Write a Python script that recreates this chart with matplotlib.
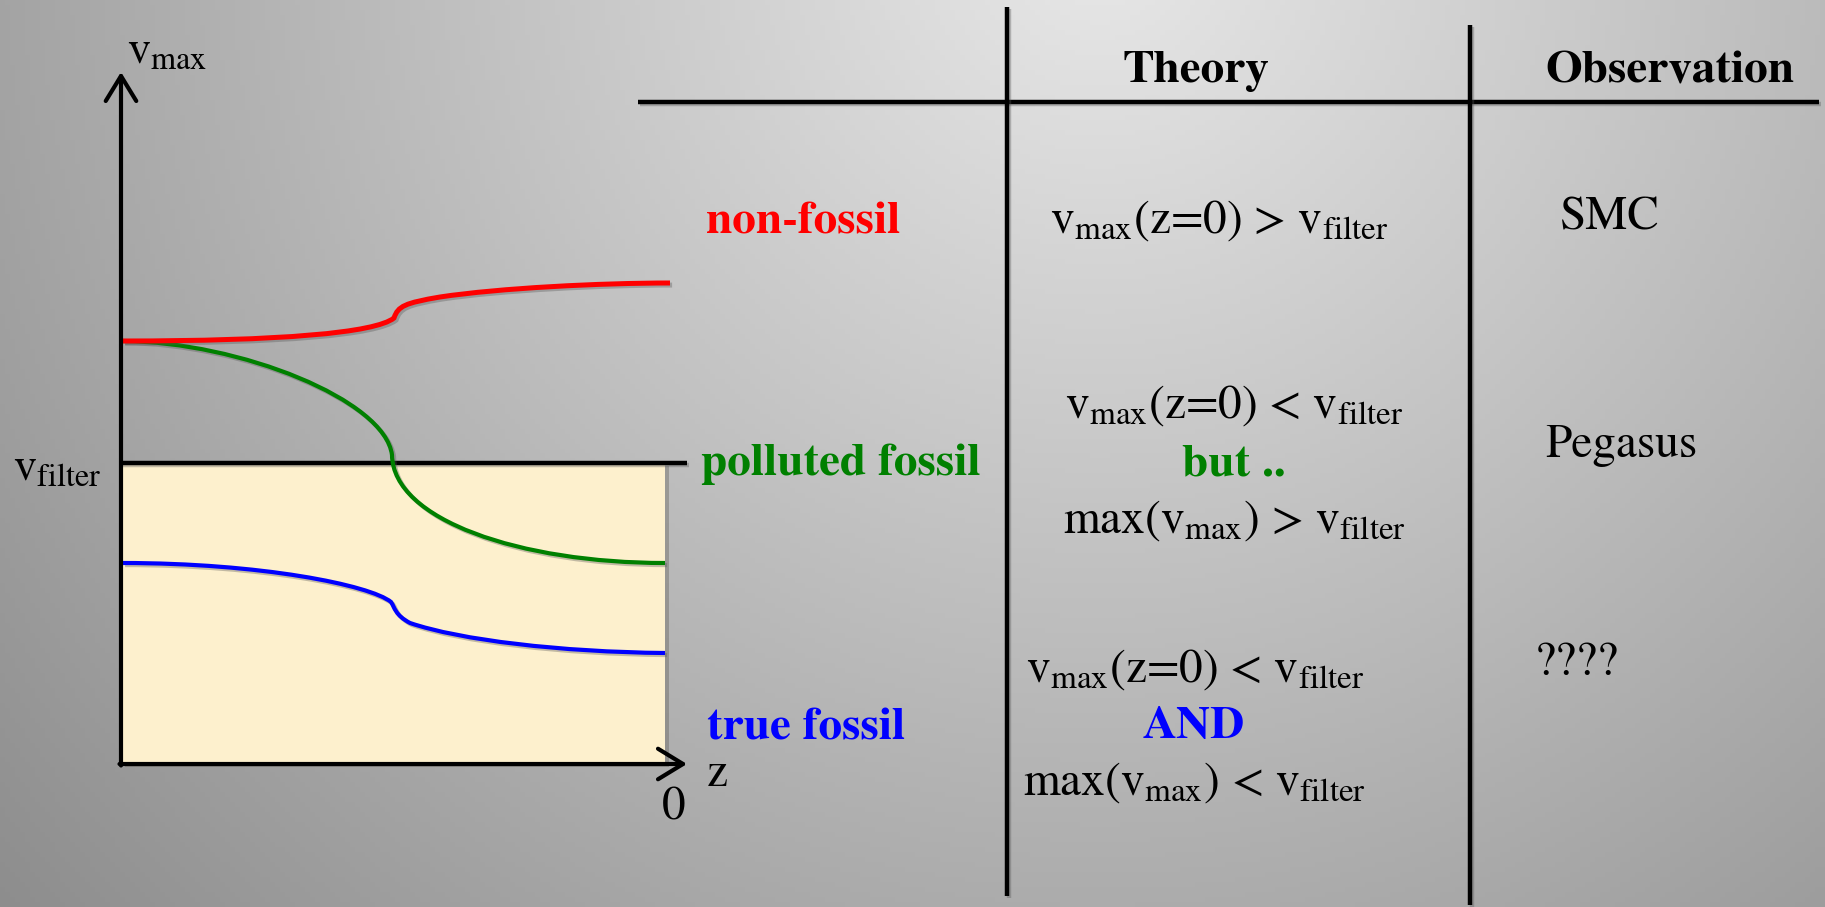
import numpy as np
import matplotlib
matplotlib.use("Agg")
import matplotlib.pyplot as plt
import matplotlib.patheffects as pe
from matplotlib.patches import Rectangle, PathPatch
from matplotlib.path import Path

plt.rcParams['font.family'] = ['STIXGeneral', 'DejaVu Serif']
plt.rcParams['mathtext.fontset'] = 'stix'

# curves: cubic bezier nodes (pixel frame, y down)
# each curve = start point followed by groups of (ctrl1, ctrl2, end)
red_nodes = [(123, 341),
             (280, 341), (375, 333), (394, 318),
             (398, 306), (405, 303), (440, 297),
             (500, 288), (600, 283), (670, 283)]
green_nodes = [(123, 341),
               (240, 342), (385, 400), (392, 455),
               (393, 520), (520, 563), (665, 563)]
blue_nodes = [(123, 563),
              (260, 563), (370, 585), (391, 602),
              (395, 608), (395, 615), (410, 623),
              (460, 640), (560, 652), (665, 653)]

# diagram frame
axis_x0, axis_y0 = 121, 764
axis_top, axis_right = 72, 687
v_filter_y = 463
box_right = 665

# table
row_labels = ['non-fossil', 'polluted fossil', 'true fossil']
row_colors = ['#ff0000', '#008000', '#0000ff']
observations = ['SMC', 'Pegasus', '????']

fig = plt.figure(figsize=(18.25, 9.07), dpi=100)
ax = fig.add_axes([0, 0, 1, 1])
ax.set_xlim(0, 1825)
ax.set_ylim(907, 0)
ax.axis('off')

# slide background
gx, gy = np.meshgrid(np.linspace(0, 1825, 365), np.linspace(0, 907, 182))
d = np.hypot(gx - 1100, gy + 60)
bg = np.clip(232 - 0.062 * d, 120, 240) / 255.0
ax.imshow(np.dstack([bg, bg, bg]), extent=[0, 1825, 907, 0], aspect='auto', zorder=0)

shadow = [pe.SimpleLineShadow(offset=(1.5, -1.5), alpha=0.35, shadow_color='#555'), pe.Normal()]


def bezier(nodes):
    codes = [Path.MOVETO] + [Path.CURVE4] * (len(nodes) - 1)
    return Path(nodes, codes)


# shaded region under v_filter
ax.add_patch(Rectangle((axis_x0, v_filter_y), box_right - axis_x0, axis_y0 - v_filter_y,
                       facecolor='#fdf0cd', edgecolor='none', zorder=1,
                       path_effects=[pe.SimplePatchShadow(offset=(3, -2), alpha=0.3), pe.Normal()]))

ax.plot([axis_x0, axis_right], [v_filter_y, v_filter_y], color='black', lw=3.2,
        solid_capstyle='butt', zorder=3, path_effects=shadow)

for nodes, col, lw, z in [(green_nodes, '#008000', 3.0, 4),
                          (red_nodes, '#ff0000', 3.6, 5),
                          (blue_nodes, '#0000ff', 3.0, 4)]:
    ax.add_patch(PathPatch(bezier(nodes), facecolor='none', edgecolor=col, lw=lw,
                           zorder=z, path_effects=shadow))

# axes arrows
arrow = dict(arrowstyle='->, head_length=0.9, head_width=0.55', lw=3.0, color='black',
             shrinkA=0, shrinkB=0, mutation_scale=20)
ax.annotate('', xy=(axis_x0, axis_top), xytext=(axis_x0, axis_y0 + 1.5), arrowprops=arrow, zorder=6)
ax.annotate('', xy=(axis_right, axis_y0), xytext=(axis_x0 - 1.5, axis_y0), arrowprops=arrow, zorder=6)

ax.text(127, 63, r'$\mathrm{v}_{\mathrm{max}}$', fontsize=33, ha='left', va='baseline')
ax.text(13, 480, r'$\mathrm{v}_{\mathrm{filter}}$', fontsize=33, ha='left', va='baseline')
ax.text(707, 786, 'z', fontsize=34, ha='left', va='baseline')
ax.text(674, 819, '0', fontsize=34, ha='center', va='baseline')

# table lines
ax.plot([638, 1819], [102, 102], color='black', lw=3.2, solid_capstyle='butt', path_effects=shadow, zorder=3)
ax.plot([1007, 1007], [7, 896], color='black', lw=3.2, solid_capstyle='butt', path_effects=shadow, zorder=3)
ax.plot([1470, 1470], [25, 905], color='black', lw=3.2, solid_capstyle='butt', path_effects=shadow, zorder=3)

ax.text(1196, 82, 'Theory', fontsize=34, fontweight='bold', ha='center', va='baseline')
ax.text(1670, 82, 'Observation', fontsize=34, fontweight='bold', ha='center', va='baseline')

label_pos = [(803, 233), (841, 475), (806, 740)]
for (lx, ly), lab, col in zip(label_pos, row_labels, row_colors):
    ax.text(lx, ly, lab, fontsize=34, fontweight='bold', color=col, ha='center', va='baseline')

obs_pos = [(1610, 229), (1621, 457), (1577, 675)]
for (ox, oy), lab in zip(obs_pos, observations):
    ax.text(ox, oy, lab, fontsize=34, ha='center', va='baseline')

# theory column
vz = r'$\mathrm{v}_{\mathrm{max}}\text{(z=0) %s }\mathrm{v}_{\mathrm{filter}}$'
mv = r'$\text{max(}\mathrm{v}_{\mathrm{max}}\text{) %s }\mathrm{v}_{\mathrm{filter}}$'

ax.text(1219, 233, vz % '>', fontsize=34, ha='center', va='baseline')

ax.text(1234, 418, vz % '<', fontsize=34, ha='center', va='baseline')
ax.text(1234, 476, 'but ..', fontsize=34, fontweight='bold', color='#008000', ha='center', va='baseline')
ax.text(1234, 533, mv % '>', fontsize=34, ha='center', va='baseline')

ax.text(1195, 682, vz % '<', fontsize=34, ha='center', va='baseline')
ax.text(1194, 738, 'AND', fontsize=34, fontweight='bold', color='#0000ff', ha='center', va='baseline')
ax.text(1194, 795, mv % '<', fontsize=34, ha='center', va='baseline')

fig.savefig('out.png', dpi=100)
